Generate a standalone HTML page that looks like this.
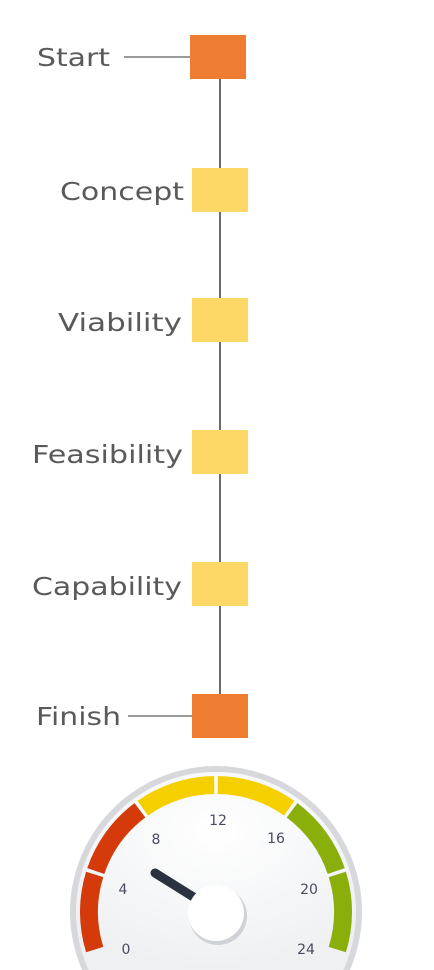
<!DOCTYPE html>
<html><head><meta charset="utf-8"><style>
html,body{margin:0;padding:0;background:#fff;width:434px;height:970px;overflow:hidden;}
svg{display:block}
text{font-family:"DejaVu Sans","Liberation Sans",sans-serif}
</style></head><body>
<svg width="434" height="970" viewBox="0 0 434 970" xmlns="http://www.w3.org/2000/svg" style="overflow:hidden">
<defs>
<radialGradient id="face" cx="50%" cy="30%" r="70%"><stop offset="0" stop-color="#ffffff"/><stop offset="1" stop-color="#eef0f2"/></radialGradient>
</defs>
<line x1="220" y1="60" x2="220" y2="716" stroke="#6e6a6a" stroke-width="2"/>
<line x1="124" y1="57" x2="192" y2="57" stroke="#9a9a9a" stroke-width="2"/>
<line x1="128" y1="716" x2="194" y2="716" stroke="#9a9a9a" stroke-width="2"/>
<rect x="190" y="35" width="56" height="44" fill="#ee7d32"/>
<rect x="192" y="168" width="56" height="44" fill="#fed866"/>
<rect x="192" y="298" width="56" height="44" fill="#fed866"/>
<rect x="192" y="430" width="56" height="44" fill="#fed866"/>
<rect x="192" y="562" width="56" height="44" fill="#fed866"/>
<rect x="192" y="694" width="56" height="44" fill="#ee7d32"/>
<g fill="#5a5a5a" font-size="25" text-anchor="end">
<text x="110" y="66" textLength="73" lengthAdjust="spacingAndGlyphs">Start</text>
<text x="184" y="200" textLength="124" lengthAdjust="spacingAndGlyphs">Concept</text>
<text x="182" y="331" textLength="124" lengthAdjust="spacingAndGlyphs">Viability</text>
<text x="183" y="463" textLength="151" lengthAdjust="spacingAndGlyphs">Feasibility</text>
<text x="182" y="595" textLength="150" lengthAdjust="spacingAndGlyphs">Capability</text>
<text x="121" y="725" textLength="85" lengthAdjust="spacingAndGlyphs">Finish</text>
</g>
<path d="M 82 970 A 146 146 0 1 1 350 970 Z" fill="#d6d8db"/>
<path d="M 88.6 970 A 140 140 0 1 1 343.4 970 Z" fill="url(#face)"/>
<g id="arcs"></g>
<script>
(function(){
 var cx=216,cy=912,r=127,start=-108,span=216,cols=["#d43a0a","#d43a0a","#f5cf00","#f5cf00","#8aae0a","#8aae0a"];
 var g=document.getElementById("arcs");var ns="http://www.w3.org/2000/svg";
 function pt(a){var t=(a-90)*Math.PI/180;return [cx+r*Math.cos(t),cy+r*Math.sin(t)];}
 for(var i=0;i<6;i++){var a0=start+i*span/6+0.8,a1=start+(i+1)*span/6-0.8;var p0=pt(a0),p1=pt(a1);
  var p=document.createElementNS(ns,"path");p.setAttribute("d","M "+p0[0]+" "+p0[1]+" A "+r+" "+r+" 0 0 1 "+p1[0]+" "+p1[1]);
  p.setAttribute("stroke",cols[i]);p.setAttribute("stroke-width","18");p.setAttribute("fill","none");g.appendChild(p);}
})();
</script>
<g fill="#4a4a60" font-size="14" text-anchor="middle">
<text x="126" y="954">0</text>
<text x="123" y="894">4</text>
<text x="156" y="844">8</text>
<text x="218" y="825">12</text>
<text x="276" y="843">16</text>
<text x="309" y="894">20</text>
<text x="306" y="954">24</text>
</g>
<line x1="155" y1="873" x2="195" y2="898" stroke="#2c3340" stroke-width="9" stroke-linecap="round"/>
<circle cx="218" cy="916" r="29" fill="#cfd2d6"/>
<circle cx="216" cy="913" r="28" fill="#fff"/>
</svg>
</body></html>
